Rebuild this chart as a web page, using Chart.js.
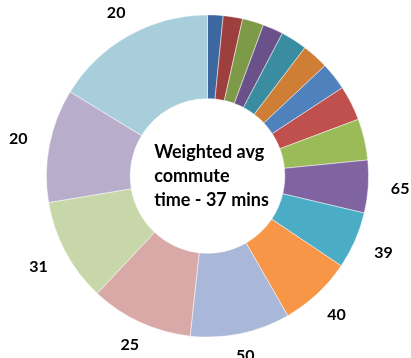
<!DOCTYPE html>
<html>
<head>
<meta charset="utf-8">
<script src="https://cdn.jsdelivr.net/npm/chart.js@4"></script>
<style>
  html, body { margin: 0; padding: 0; background: #fff; }
  #wrap { width: 411px; height: 358px; position: relative; }
</style>
</head>
<body>
<div id="wrap"><canvas id="commuteChart"></canvas></div>
<script>
// slice sizes (share of people, read from the ring)
const groups = ['G1', 'G2', 'G3', 'G4', 'G5', 'G6', 'G7', 'G8', 'G9', 'G10', 'G11', 'G12', 'G13', 'G14', 'G15', 'G16', 'G17'];
const shares = [5.6, 7.0, 7.7, 7.4, 9.5, 9.6, 10.0, 12.6, 14.9, 19.0, 20.6, 26.2, 36.1, 37.0, 37.3, 41.0, 58.5];
// commute minutes shown next to the bigger slices
const commuteMins = ['', '', '', '', '', '', '', '', '', '65', '39', '40', '50', '25', '31', '20', '20'];
const centerLines = ['Weighted avg', 'commute', 'time - 37 mins'];

const sliceColors = [
    '#3d689f', '#9d3f3c', '#7d9a48', '#6a518a', '#3a8ca1', '#cf7e36',
    '#4f81bd', '#c0504d', '#9bbb59', '#8064a2', '#4bacc6', '#f79646',
    '#a9b8d8', '#d9a9a8', '#c7d7aa', '#b8aecb', '#a8cedb'
];

// labels outside the ring + text in the hole
const ringText = {
    id: 'ringText',
    afterDraw(chart) {
        const ctx = chart.ctx;
        const meta = chart.getDatasetMeta(0);
        ctx.save();
        ctx.fillStyle = '#000';
        ctx.font = 'bold 16px Lato, sans-serif';
        ctx.textAlign = 'center';
        ctx.textBaseline = 'middle';
        meta.data.forEach(function (arc, i) {
            if (!commuteMins[i]) return;
            const p = arc.getProps(['x', 'y', 'startAngle', 'endAngle', 'outerRadius'], true);
            const mid = (p.startAngle + p.endAngle) / 2;
            // wider gap at the sides, the text is wider than tall
            const r = p.outerRadius + 20 + 12 * Math.abs(Math.cos(mid));
            ctx.fillText(commuteMins[i], p.x + Math.cos(mid) * r, p.y + Math.sin(mid) * r);
        });

        const first = meta.data[0];
        ctx.font = 'bold 18px Lato, sans-serif';
        ctx.textAlign = 'left';
        let w = 0;
        centerLines.forEach(function (t) { w = Math.max(w, ctx.measureText(t).width); });
        const lineH = 24;
        const top = first.y - lineH * (centerLines.length - 1) / 2;
        centerLines.forEach(function (t, i) {
            ctx.fillText(t, first.x - w / 2 + 4, top + i * lineH);
        });
        ctx.restore();
    }
};

const ctx = document.getElementById('commuteChart').getContext('2d');
new Chart(ctx, {
    type: 'doughnut',
    data: {
        labels: groups,
        datasets: [{
            data: shares,
            backgroundColor: sliceColors,
            borderColor: 'rgba(255,255,255,0.6)',
            borderWidth: 0.8
        }]
    },
    options: {
        responsive: true,
        maintainAspectRatio: false,
        animation: false,
        cutout: '48%',
        layout: {
            padding: { left: 46, right: 42, top: 14, bottom: 20 }
        },
        plugins: {
            legend: { display: false },
            tooltip: { enabled: false }
        }
    },
    plugins: [ringText]
});
</script>
</body>
</html>
